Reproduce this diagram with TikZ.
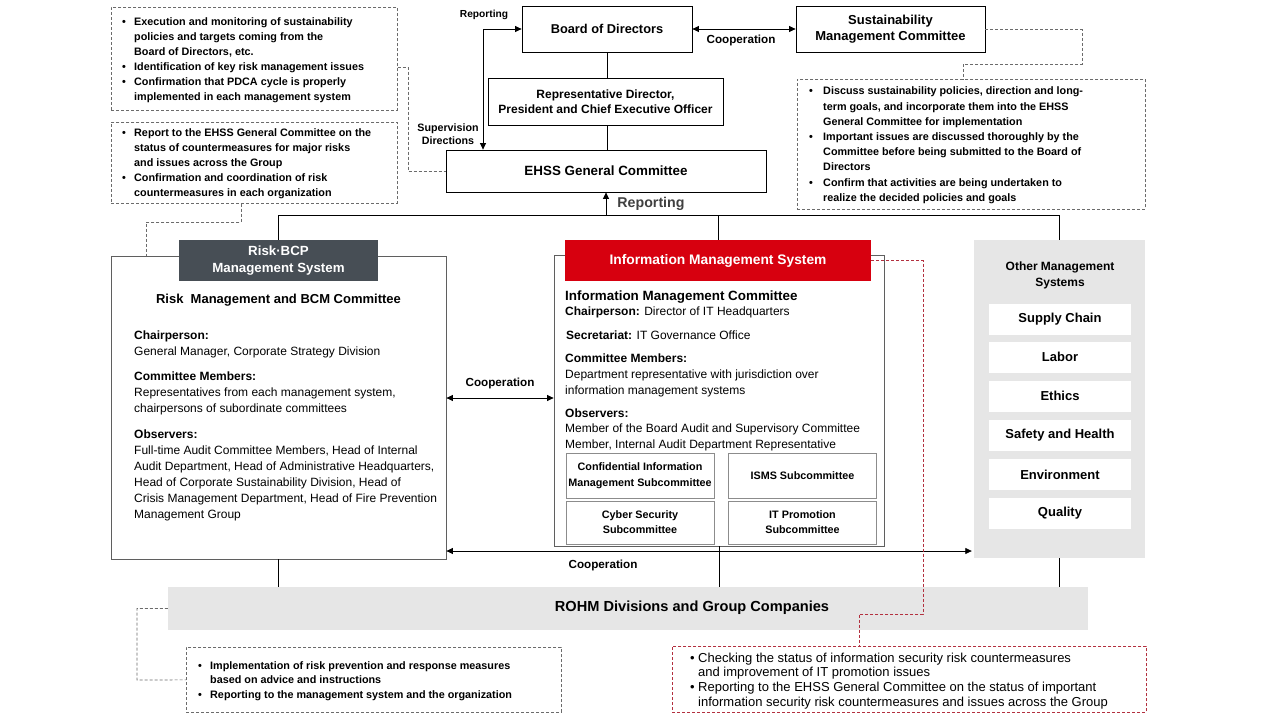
\documentclass[tikz,border=0pt]{standalone}
\usepackage{fontspec}
\setmainfont{Liberation Sans}
\usetikzlibrary{arrows.meta,calc}
\definecolor{slate}{HTML}{474E55}
\definecolor{ired}{HTML}{D7000F}
\definecolor{lgray}{HTML}{E6E6E6}
\definecolor{bgray}{HTML}{5F5F5F}
\definecolor{sgray}{HTML}{8C8C8C}
\definecolor{ngray}{HTML}{6B6B6B}
\definecolor{dred}{HTML}{B3303F}
\definecolor{darktext}{HTML}{404040}
\newcommand{\fsz}[2]{\fontsize{#1}{#2}\selectfont}
\newcommand{\bu}[1][12pt]{\makebox[#1][l]{\textbullet}}
\newcommand{\ii}[1][12pt]{\hspace*{#1}}
\begin{document}
\begin{tikzpicture}[x=1pt,y=-1pt,>={Triangle[length=6.5pt,width=6pt]},
  box/.style={draw=black,line width=0.8pt,inner sep=0pt,align=center,font=\bfseries\fsz{12.8}{16}},
  frame/.style={draw=bgray,line width=0.8pt,inner sep=0pt},
  sub/.style={draw=sgray,line width=0.7pt,inner sep=0pt,minimum width=148pt,align=center,font=\bfseries\fsz{10.8}{16}},
  ob/.style={fill=white,inner sep=0pt,minimum width=142pt,minimum height=31pt,font=\bfseries\fsz{13}{16}},
  conn/.style={draw=black,line width=0.8pt},
  notebox/.style={draw=ngray,dash pattern=on 3pt off 2pt,line width=0.7pt,inner sep=0pt,anchor=north west},
  rednote/.style={draw=dred,dash pattern=on 3pt off 2pt,line width=0.8pt,inner sep=0pt,anchor=north west},
  notetext/.style={align=left,inner sep=0pt,anchor=west,font=\bfseries\fsz{10.8}{15}},
  body/.style={align=left,inner sep=0pt,anchor=north west,font=\fsz{12}{16}},
  lab/.style={inner sep=0pt,font=\bfseries\fsz{11.7}{14}}
]
\useasboundingbox (0,0) rectangle (1280,720);
\fill[white] (0,0) rectangle (1280,720);

% top boxes
\node[box,minimum width=170pt,minimum height=46pt] (board) at (607,29) {Board of Directors};
\node[box,minimum width=189pt,minimum height=46pt,font=\bfseries\fsz{13}{16}] (sust) at (890.5,29.5) {Sustainability\\Management Committee};
\node[box,minimum width=235pt,minimum height=47pt,font=\bfseries\fsz{12}{15}] (rep) at (605.5,101.5) {Representative Director,\\President and Chief Executive Officer};
\node[box,minimum width=320pt,minimum height=42pt,font=\bfseries\fsz{13.4}{16}] (ehss) at (606,171) {EHSS General Committee};

\draw[conn] (board.south) -- (board.south |- rep.north);
\draw[conn] (board.south |- rep.south) -- (board.south |- ehss.north);
\draw[conn,<->] (board.east) -- (sust.west |- board.east);
\node[lab] (lcoop1) at (741,40) {Cooperation};

\coordinate (lx) at (483,29);
\draw[conn,<->] (board.west) -- (lx) -- (lx |- ehss.north);
\node[inner sep=0pt,font=\bfseries\fsz{10.2}{12}] (lrep) at (484,15) {Reporting};
\node[inner sep=0pt,align=center,font=\bfseries\fsz{10.7}{13}] (lsup) at (448,134.5) {Supervision\\Directions};

% notes top left
\node[notebox,minimum width=286pt,minimum height=103pt] (note1) at (111,7) {};
\node[notetext] (note1t) at ([xshift=11pt,yshift=-1pt]note1.west) {\bu Execution and monitoring of sustainability\\
\ii policies and targets coming from the\\
\ii Board of Directors, etc.\\
\bu Identification of key risk management issues\\
\bu Confirmation that PDCA cycle is properly\\
\ii implemented in each management system};

\node[notebox,minimum width=286pt,minimum height=81pt] (note2) at (111,122) {};
\node[notetext] (note2t) at ([xshift=11pt,yshift=-1pt]note2.west) {\bu Report to the EHSS General Committee on the\\
\ii status of countermeasures for major risks\\
\ii and issues across the Group\\
\bu Confirmation and coordination of risk\\
\ii countermeasures in each organization};

% note top right
\node[notebox,minimum width=348pt,minimum height=130pt] (note3) at (797,79) {};
\node[notetext,font=\bfseries\fsz{10.8}{15.2}] (note3t) at ([xshift=12pt,yshift=-1pt]note3.west) {\bu[14pt]Discuss sustainability policies, direction and long-\\
\ii[14pt]term goals, and incorporate them into the EHSS\\
\ii[14pt]General Committee for implementation\\
\bu[14pt]Important issues are discussed thoroughly by the\\
\ii[14pt]Committee before being submitted to the Board of\\
\ii[14pt]Directors\\
\bu[14pt]Confirm that activities are being undertaken to\\
\ii[14pt]realize the decided policies and goals};

\coordinate (s1) at (1082,64);
\draw[ngray,dash pattern=on 3pt off 2pt,line width=0.7pt] (sust.east) -| (s1) -| ([xshift=166pt]note3.north west);
\coordinate (n1c) at (408,67);
\draw[ngray,dash pattern=on 3pt off 2pt,line width=0.7pt] (note1.east |- n1c) -- (n1c) |- (ehss.west);
\coordinate (n2a) at (241,222);
\draw[ngray,dash pattern=on 3pt off 2pt,line width=0.7pt] (note2.south -| n2a) -- (n2a) -| ([xshift=35pt]note2.south west |- 0,256);

% Risk system
\node[frame,minimum width=335pt,minimum height=303pt] (riskbox) at (278.5,407.5) {};
\node[fill=slate,text=white,inner sep=0pt,minimum width=199pt,minimum height=41pt,align=center,font=\bfseries\fsz{13.3}{17}] (riskhead) at (278.5,260.5) {Risk·BCP\\Management System};
\node[inner sep=0pt,font=\bfseries\fsz{13}{16}] (risktitle) at (278.5,300) {Risk\ \ Management and BCM Committee};
\node[body] (rb1) at (134,330.5) {\textbf{Chairperson:}\\General Manager, Corporate Strategy Division};
\node[body] (rb2) at (134,371.5) {\textbf{Committee Members:}\\Representatives from each management system,\\chairpersons of subordinate committees};
\node[body] (rb3) at (134,429.5) {\textbf{Observers:}\\Full-time Audit Committee Members, Head of Internal\\Audit Department, Head of Administrative Headquarters,\\Head of Corporate Sustainability Division, Head of\\Crisis Management Department, Head of Fire Prevention\\Management Group};

% Information system
\node[frame,minimum width=330pt,minimum height=291pt] (infobox) at (719,400.5) {};
\node[fill=ired,text=white,inner sep=0pt,minimum width=306pt,minimum height=41pt,font=\bfseries\fsz{13.8}{16}] (infohead) at (718,260.5) {Information Management System};
\node[inner sep=0pt,anchor=west,font=\bfseries\fsz{13.4}{16}] (infotitle) at (565,297) {Information Management Committee};
\node[inner sep=0pt,anchor=west,font=\fsz{12}{16}] (ib1) at (565,312) {\textbf{Chairperson:} Director of IT Headquarters};
\node[inner sep=0pt,anchor=west,font=\fsz{12}{16}] (ib2) at (566,335) {\textbf{Secretariat:} IT Governance Office};
\node[body] (ib3) at (565,353.5) {\textbf{Committee Members:}\\Department representative with jurisdiction over\\information management systems};
\node[body,font=\fsz{12}{15.5}] (ib4) at (565,408.5) {\textbf{Observers:}\\Member of the Board Audit and Supervisory Committee\\Member, Internal Audit Department Representative};

\node[sub,minimum height=45pt] (sub1) at (640,475.5) {Confidential Information\\Management Subcommittee};
\node[sub,minimum height=45pt] (sub2) at (802.5,475.5) {ISMS Subcommittee};
\node[sub,minimum height=43pt,font=\bfseries\fsz{10.8}{15}] (sub3) at (640,522.5) {Cyber Security\\Subcommittee};
\node[sub,minimum height=43pt,font=\bfseries\fsz{10.8}{15}] (sub4) at (802.5,522.5) {IT Promotion\\Subcommittee};

% Other systems
\node[fill=lgray,inner sep=0pt,minimum width=171pt,minimum height=318pt] (other) at (1059.5,399) {};
\node[inner sep=0pt,align=center,font=\bfseries\fsz{12}{15.5}] (othertitle) at (1060,275.5) {Other Management\\Systems};
\node[ob] (o1) at (1060,319) {Supply Chain};
\node[ob] (o2) at (1060,357) {Labor};
\node[ob] (o3) at (1060,396) {Ethics};
\node[ob] (o4) at (1060,435.5) {Safety and Health};
\node[ob] (o5) at (1060,474.5) {Environment};
\node[ob] (o6) at (1060,513.5) {Quality};

% bus and reporting
\coordinate (busL) at (278.5,215);
\coordinate (busR) at (1059.5,215);
\draw[conn] (riskhead.north) -- (busL) -- (busR) -- (other.north);
\draw[conn] (infohead.north |- busL) -- (infohead.north);
\draw[conn,->] (ehss.south |- busL) -- (ehss.south);
\node[inner sep=0pt,font=\bfseries\fsz{14.2}{16},text=darktext] (lrep2) at (651,204) {Reporting};

% cooperation arrows
\coordinate (coopm) at (500,398);
\draw[conn,<->] (riskbox.east |- coopm) -- (infobox.west |- coopm);
\node[lab] (lcoop2) at (500,383) {Cooperation};
\coordinate (coopb) at (600,551);
\draw[conn,<->] (riskbox.east |- coopb) -- ([xshift=-2pt]other.west |- coopb);
\node[lab] (lcoop3) at (603,565) {Cooperation};

% ROHM
\node[fill=lgray,inner sep=0pt,minimum width=920pt,minimum height=43pt] (rohm) at (628,608.5) {};
\node[inner sep=0pt,font=\bfseries\fsz{14.6}{16}] (rohmtext) at (692,608) {ROHM Divisions and Group Companies};
\draw[conn] (riskbox.south) -- (riskbox.south |- rohm.north);
\draw[conn] (infobox.south) -- (infobox.south |- rohm.north);
\draw[conn] (other.south) -- (other.south |- rohm.north);

% bottom notes
\node[notebox,minimum width=375pt,minimum height=65pt] (note4) at (186,647) {};
\node[notetext,font=\bfseries\fsz{10.8}{14.5}] (note4t) at ([xshift=12pt,yshift=-1pt]note4.west) {\bu Implementation of risk prevention and response measures\\
\ii based on advice and instructions\\
\bu Reporting to the management system and the organization};
\coordinate (r1) at (137,680);
\draw[ngray,dash pattern=on 3pt off 2pt,line width=0.7pt] (rohm.west) -| (r1) -- (note4.west);

\node[rednote,minimum width=474pt,minimum height=66pt] (note5) at (672,646) {};
\node[notetext,font=\fsz{13}{14.6}] (note5t) at ([xshift=18pt,yshift=-1.5pt]note5.west) {\bu[8pt]Checking the status of information security risk countermeasures\\
\ii[8pt]and improvement of IT promotion issues\\
\bu[8pt]Reporting to the EHSS General Committee on the status of important\\
\ii[8pt]information security risk countermeasures and issues across the Group};
\coordinate (i1) at (923,614);
\draw[dred,dash pattern=on 3pt off 2pt,line width=0.8pt] (infohead.east) -| (i1) -| ([xshift=187pt]note5.north west);
\end{tikzpicture}
\end{document}
